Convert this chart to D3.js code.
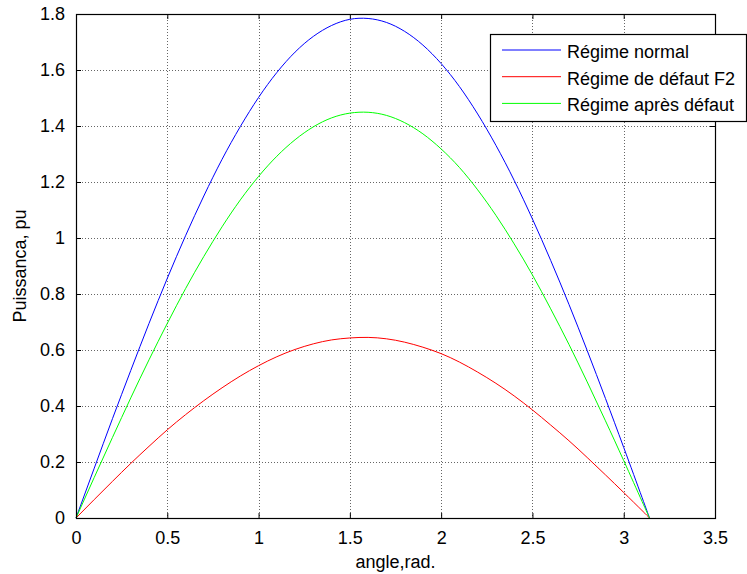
<!DOCTYPE html>
<html>
<head>
<meta charset="utf-8">
<script src="https://cdn.jsdelivr.net/npm/d3@7/dist/d3.min.js"></script>
<style>
  html, body { margin: 0; padding: 0; background: #fff; }
  svg { display: block; }
  text { font-family: "Liberation Sans", Arial, sans-serif; fill: #000; }
</style>
</head>
<body>
<svg id="chart" width="747" height="574"></svg>
<script>
// Rotor angle (rad) samples
const angles = [0, 0.1, 0.2, 0.3, 0.4, 0.5, 0.6, 0.7, 0.8, 0.9, 1.0, 1.1, 1.2, 1.3, 1.4, 1.5, 1.6,
  1.7, 1.8, 1.9, 2.0, 2.1, 2.2, 2.3, 2.4, 2.5, 2.6, 2.7, 2.8, 2.9, 3.0, 3.1, 3.1416];

// Electrical power (pu) for each operating regime
const normalPower = [0, 0.178, 0.355, 0.527, 0.695, 0.856, 1.008, 1.150, 1.281, 1.398, 1.502, 1.591,
  1.664, 1.720, 1.759, 1.781, 1.784, 1.770, 1.738, 1.689, 1.623, 1.541, 1.443, 1.331, 1.206, 1.068,
  0.920, 0.763, 0.598, 0.427, 0.252, 0.074, 0];
const faultPower = [0, 0.066, 0.131, 0.195, 0.256, 0.315, 0.369, 0.419, 0.465, 0.507, 0.544, 0.576,
  0.602, 0.622, 0.636, 0.643, 0.645, 0.640, 0.628, 0.610, 0.587, 0.557, 0.521, 0.481, 0.436, 0.386,
  0.332, 0.276, 0.216, 0.154, 0.091, 0.027, 0];
const postFaultPower = [0, 0.145, 0.288, 0.429, 0.565, 0.695, 0.819, 0.934, 1.040, 1.136, 1.220,
  1.292, 1.351, 1.397, 1.429, 1.446, 1.449, 1.438, 1.412, 1.372, 1.318, 1.252, 1.172, 1.081, 0.979,
  0.868, 0.747, 0.620, 0.486, 0.347, 0.205, 0.060, 0];

const seriesNames = ["Régime normal", "Régime de défaut F2", "Régime après défaut"];
const seriesColors = ["#0000ff", "#ff0000", "#00ff00"];

const xTicks = [0, 0.5, 1, 1.5, 2, 2.5, 3, 3.5];
const xTickLabels = ["0", "0.5", "1", "1.5", "2", "2.5", "3", "3.5"];
const yTicks = [0, 0.2, 0.4, 0.6, 0.8, 1, 1.2, 1.4, 1.6, 1.8];
const yTickLabels = ["0", "0.2", "0.4", "0.6", "0.8", "1", "1.2", "1.4", "1.6", "1.8"];

const xLabel = "angle,rad.";
const yLabel = "Puissanca, pu";

const margin = { left: 76, top: 14, right: 32, bottom: 56 };
const W = 747, H = 574;
const pw = W - margin.left - margin.right;
const ph = H - margin.top - margin.bottom;
const fontSize = 18;

const svg = d3.select("#chart");
const g = svg.append("g").attr("transform", `translate(${margin.left},${margin.top})`);

const x = d3.scaleLinear().domain([0, 3.5]).range([0, pw]);
const y = d3.scaleLinear().domain([0, 1.8]).range([ph, 0]);

// dotted grid
const grid = g.append("g").attr("class", "grid");
grid.selectAll("line.gx").data(xTicks.slice(1, -1)).join("line")
  .attr("x1", d => Math.round(x(d)) + 0.5).attr("x2", d => Math.round(x(d)) + 0.5)
  .attr("y1", 0).attr("y2", ph)
  .attr("stroke", "#666").attr("stroke-width", 1).attr("stroke-dasharray", "1,2");
grid.selectAll("line.gy").data(yTicks.slice(1, -1)).join("line")
  .attr("y1", d => Math.round(y(d)) + 0.5).attr("y2", d => Math.round(y(d)) + 0.5)
  .attr("x1", 0).attr("x2", pw)
  .attr("stroke", "#666").attr("stroke-width", 1).attr("stroke-dasharray", "1,2");

// curves
const series = [normalPower, faultPower, postFaultPower];
const line = d3.line()
  .x((d, i) => x(angles[i]))
  .y(d => y(d))
  .curve(d3.curveNatural);

g.selectAll("path.curve").data(series).join("path")
  .attr("class", "curve")
  .attr("d", d => line(d))
  .attr("fill", "none")
  .attr("stroke", (d, i) => seriesColors[i])
  .attr("stroke-width", 1);

// axes (ticks inward on all four sides)
const fmtX = d => xTickLabels[xTicks.indexOf(d)];
const fmtY = d => yTickLabels[yTicks.indexOf(d)];

function styleAxis(sel) {
  sel.select(".domain").remove();
  sel.selectAll(".tick line").attr("stroke", "#000");
  sel.selectAll(".tick text").attr("font-size", fontSize).attr("font-family", "Liberation Sans, Arial, sans-serif");
}

g.append("g").attr("transform", `translate(0,${ph})`)
  .call(d3.axisBottom(x).tickValues(xTicks).tickFormat(fmtX).tickSizeInner(-5).tickSizeOuter(0).tickPadding(13))
  .call(styleAxis);
g.append("g")
  .call(d3.axisTop(x).tickValues(xTicks).tickFormat("").tickSizeInner(-5).tickSizeOuter(0))
  .call(styleAxis);
g.append("g")
  .call(d3.axisLeft(y).tickValues(yTicks).tickFormat(fmtY).tickSizeInner(-5).tickSizeOuter(0).tickPadding(11))
  .call(styleAxis);
g.append("g").attr("transform", `translate(${pw},0)`)
  .call(d3.axisRight(y).tickValues(yTicks).tickFormat("").tickSizeInner(-5).tickSizeOuter(0))
  .call(styleAxis);

// axes box
g.append("rect").attr("x", 0.5).attr("y", 0.5).attr("width", pw).attr("height", ph)
  .attr("fill", "none").attr("stroke", "#000").attr("stroke-width", 1.2);

// axis titles
svg.append("text")
  .attr("x", margin.left + pw / 2).attr("y", 568)
  .attr("text-anchor", "middle").attr("font-size", fontSize)
  .text(xLabel);
svg.append("text")
  .attr("transform", `translate(26,${margin.top + ph / 2}) rotate(-90)`)
  .attr("text-anchor", "middle").attr("font-size", fontSize)
  .text(yLabel);

// legend
const legend = svg.append("g").attr("transform", "translate(490,34)");
legend.append("rect").attr("x", 0.5).attr("y", 0.5).attr("width", 256).attr("height", 87)
  .attr("fill", "#fff").attr("stroke", "#000").attr("stroke-width", 1.2);
const items = legend.selectAll("g.item").data(seriesNames).join("g")
  .attr("transform", (d, i) => `translate(0,${16 + i * 26.7})`);
items.append("line").attr("x1", 12).attr("x2", 71).attr("y1", 0).attr("y2", 0)
  .attr("stroke", (d, i) => seriesColors[i]).attr("stroke-width", 1);
items.append("text").attr("x", 77).attr("y", 8).attr("font-size", fontSize).text(d => d);
</script>
</body>
</html>
